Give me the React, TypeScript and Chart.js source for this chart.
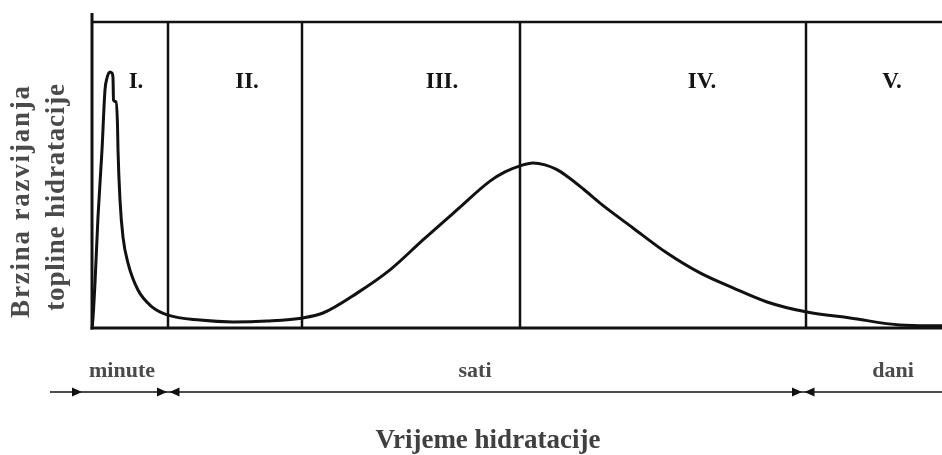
import React, { useEffect, useRef } from 'react';
import { Chart, registerables } from 'chart.js';

Chart.register(...registerables);

// Hydration time (arbitrary linear units across the plot, 0..850)
const timeValues = [
  0, 1, 3, 6, 10, 13, 15, 18, 20, 21,
  21.5, 24, 25.5, 26, 28, 31, 36, 46, 60, 76,
  108, 141, 175, 211, 231, 265, 298, 331, 365, 398,
  413, 428, 441, 453, 464, 475, 491, 508, 541, 575,
  608, 641, 675, 715, 758, 808, 850,
];
// Rate of heat evolution (relative, 0..100)
const heatRate = [
  0, 3.3, 14.7, 36.3, 58.2, 77.8, 81.7, 83.7, 83.3, 81.7,
  74.5, 73.9, 66.3, 58.2, 41.8, 29.7, 21.2, 12.4, 6.9, 4.2,
  2.6, 2.0, 2.3, 3.3, 4.9, 11.4, 19.0, 28.8, 38.6, 48.0,
  51.0, 53.0, 53.9, 53.3, 51.9, 49.6, 45.5, 40.8, 32.7, 24.5,
  18.0, 13.1, 8.5, 5.2, 3.3, 1.0, 0.7,
];

const phaseBounds = [76, 210, 428, 714];
const phaseLabels = ['I.', 'II.', 'III.', 'IV.', 'V.'];
const timeUnitLabels = ['minute', 'sati', 'dani'];
const xTitle = 'Vrijeme hidratacije';
const yTitle = ['Brzina razvijanja', 'topline hidratacije'];

// annotation placement (in x-scale units)
const phaseLabelPos = [44, 155, 350, 610, 800];
const timeUnitPos = [30, 383, 801];
const arrowStart = -42;
const arrowFirstTip = -10;
const arrowBreaks = [76, 711];
const xTitlePos = 396;

const annotate = {
  id: 'annotate',
  beforeDatasetsDraw(chart: any) {
    const { ctx, chartArea, scales } = chart;
    const { left, right, top, bottom } = chartArea;
    const x = scales.x;
    const px = (v: number) => x.getPixelForValue(v);
    const line = (x1: number, y1: number, x2: number, y2: number) => {
      ctx.beginPath();
      ctx.moveTo(x1, y1);
      ctx.lineTo(x2, y2);
      ctx.stroke();
    };
    ctx.save();
    ctx.strokeStyle = '#111';
    ctx.lineCap = 'butt';
    ctx.lineWidth = 2.5;
    phaseBounds.forEach((b) => line(px(b), top, px(b), bottom));
    line(left, top, right, top);
    ctx.lineWidth = 3;
    line(left - 1.5, bottom, right, bottom);
    line(left, top - 9, left, bottom + 1.5);

    // phase labels
    ctx.fillStyle = '#151515';
    ctx.font = 'bold 23px "Liberation Serif", serif';
    ctx.textAlign = 'center';
    ctx.textBaseline = 'middle';
    phaseLabels.forEach((t, i) => ctx.fillText(t, px(phaseLabelPos[i]), top + 60));
    ctx.restore();
  },
  afterDraw(chart: any) {
    const { ctx, chartArea, scales } = chart;
    const { right, top, bottom } = chartArea;
    const x = scales.x;
    const px = (v: number) => x.getPixelForValue(v);
    ctx.save();

    // time unit labels
    ctx.fillStyle = '#4a4a4a';
    ctx.font = 'bold 22px "Liberation Serif", serif';
    ctx.textAlign = 'center';
    ctx.textBaseline = 'alphabetic';
    timeUnitLabels.forEach((t, i) => ctx.fillText(t, px(timeUnitPos[i]), bottom + 49));

    // arrow line
    const ay = bottom + 64;
    ctx.strokeStyle = '#111';
    ctx.lineWidth = 1.5;
    ctx.beginPath();
    ctx.moveTo(px(arrowStart), ay);
    ctx.lineTo(right, ay);
    ctx.stroke();
    ctx.fillStyle = '#111';
    const head = (tip: number, dir: number) => {
      ctx.beginPath();
      ctx.moveTo(tip, ay);
      ctx.lineTo(tip - dir * 10, ay - 4.5);
      ctx.lineTo(tip - dir * 10, ay + 4.5);
      ctx.closePath();
      ctx.fill();
    };
    head(px(arrowFirstTip), 1);
    arrowBreaks.forEach((b) => {
      head(px(b) - 1, 1);
      head(px(b) + 1.5, -1);
    });

    // x title
    ctx.fillStyle = '#404040';
    ctx.font = 'bold 27px "Liberation Serif", serif';
    ctx.textAlign = 'center';
    ctx.fillText(xTitle, px(xTitlePos), bottom + 120);

    // y title (rotated, two lines)
    const spacing = ['1.8px', '0.8px'];
    const lineX = [22, 57];
    const lineY = [top + 179, top + 175];
    yTitle.forEach((t, i) => {
      ctx.save();
      (ctx as any).letterSpacing = spacing[i];
      ctx.font = 'bold 27px "Liberation Serif", serif';
      ctx.fillStyle = '#4a4a4a';
      ctx.textAlign = 'center';
      ctx.textBaseline = 'middle';
      ctx.translate(lineX[i], lineY[i]);
      ctx.rotate(-Math.PI / 2);
      ctx.fillText(t, 0, 0);
      ctx.restore();
    });
    ctx.restore();
  },
};

export default function App() {
  const ref = useRef<HTMLCanvasElement>(null);
  useEffect(() => {
    const chart = new Chart(ref.current as HTMLCanvasElement, {
      type: 'line',
      data: {
        datasets: [
          {
            data: timeValues.map((t, i) => ({ x: t, y: heatRate[i] })),
            borderColor: '#111',
            borderWidth: 3,
            pointRadius: 0,
            cubicInterpolationMode: 'monotone',
            fill: false,
          } as any,
        ],
      },
      options: {
        responsive: false,
        animation: false,
        layout: { padding: { left: 92, right: 0, top: 22, bottom: 127 } },
        plugins: { legend: { display: false }, tooltip: { enabled: false } },
        scales: {
          x: { type: 'linear', min: 0, max: 850, display: false },
          y: { min: 0, max: 100, display: false },
        },
      },
      plugins: [annotate],
    });
    return () => chart.destroy();
  }, []);
  return (
    <div style={{ position: 'fixed', left: 0, top: 0, width: 942, height: 455, background: '#fff' }}>
      <canvas ref={ref} width={942} height={455} style={{ display: 'block' }} />
    </div>
  );
}
